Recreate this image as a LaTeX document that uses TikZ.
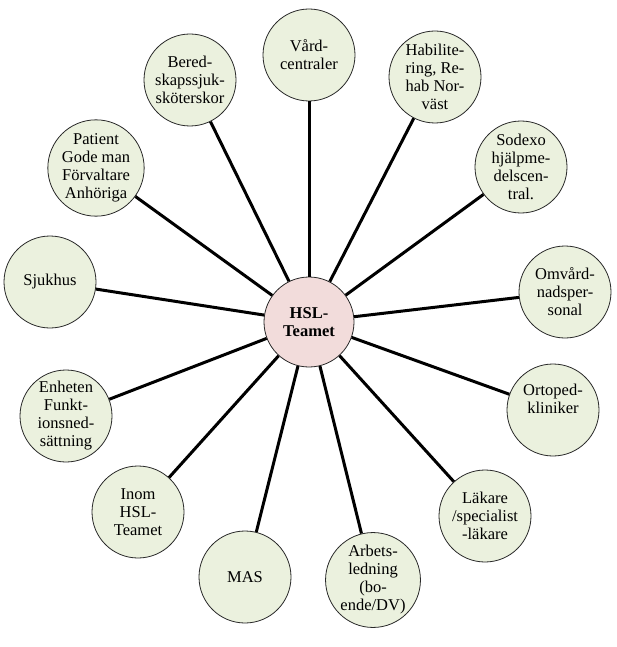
\documentclass[tikz,border=0pt]{standalone}
\usepackage{fontspec}
\setmainfont{Liberation Serif}
\definecolor{outerfill}{RGB}{235,241,222}
\definecolor{centerfill}{RGB}{242,220,219}
\definecolor{rimcol}{RGB}{40,40,40}
\begin{document}
\begin{tikzpicture}[x=1pt,y=-1pt,
  outer/.style={circle,draw=rimcol,line width=0.8pt,fill=outerfill,minimum size=92pt,inner sep=0pt,align=center,font=\fontsize{16.5}{18}\selectfont},
  hub/.style={circle,draw=rimcol,line width=0.8pt,fill=centerfill,minimum size=90pt,inner sep=0pt,align=center,font=\fontsize{16.5}{18}\selectfont\bfseries},
  spoke/.style={line width=3pt,black}]
\useasboundingbox (0,0) rectangle (616,647);
\fill[white] (0,0) rectangle (616,647);
\node[hub] (c) at (309,322) {HSL-\\Teamet};
\node[outer] (n1) at (190,80) {Bered-\\skapssjuk-\\sköterskor};
\node[outer] (n2) at (309,55) {Vård-\\centraler};
\node[outer] (n3) at (435,77) {Habilite-\\ring, Re-\\hab Nor-\\väst};
\node[outer] (n4) at (521,167) {Sodexo\\hjälpme-\\delscen-\\tral.};
\node[outer] (n5) at (565,292) {Omvård-\\nadsper-\\sonal};
\node[outer] (n6) at (553,410) {Ortoped-\\kliniker\\[4pt]};
\node[outer] (n7) at (485,516) {Läkare\\/specialist\\-läkare};
\node[outer] (n8) at (373,580) {Arbets-\\ledning\\(bo-\\ende/DV)};
\node[outer] (n9) at (245,577) {MAS};
\node[outer] (n10) at (138,512) {Inom\\HSL-\\Teamet};
\node[outer] (n11) at (66,416) {Enheten\\Funkt-\\ionsned-\\sättning};
\node[outer] (n12) at (50,282) {Sjukhus};
\node[outer] (n13) at (96,168) {Patient\\Gode man\\Förvaltare\\Anhöriga};
\foreach \i in {1,...,13} \draw[spoke] (c) -- (n\i);
\end{tikzpicture}
\end{document}
